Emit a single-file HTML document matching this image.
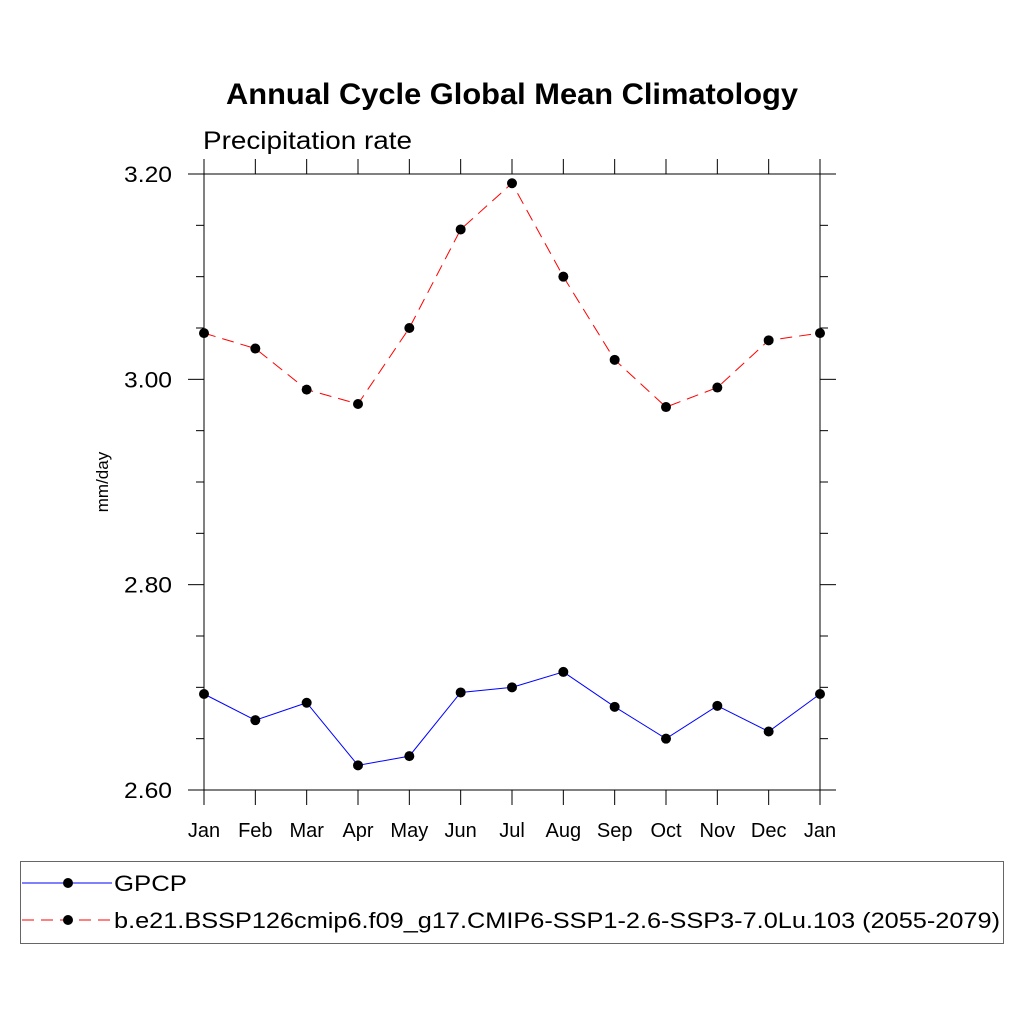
<!DOCTYPE html>
<html><head><meta charset="utf-8"><style>
body{margin:0;background:#fff;}
svg{display:block;font-family:"Liberation Sans",sans-serif;}
</style></head><body>
<svg id="chart" width="1024" height="1024">
<text x="226" y="104" font-size="30" font-weight="bold" textLength="572" lengthAdjust="spacingAndGlyphs">Annual Cycle Global Mean Climatology</text>
<text x="203" y="149" font-size="25" textLength="209" lengthAdjust="spacingAndGlyphs">Precipitation rate</text>
<text transform="translate(108,482) rotate(-90)" font-size="17" text-anchor="middle">mm/day</text>
<g id="axes"></g>
<g id="series"></g>
<rect x="20.5" y="861.5" width="983" height="82" fill="none" stroke="#666"/>
<g>
<line x1="22" y1="883" x2="112" y2="883" stroke="blue" stroke-width="1"/>
<circle cx="68" cy="883" r="5" fill="#000"/>
<text x="114" y="891" font-size="22" textLength="73" lengthAdjust="spacingAndGlyphs">GPCP</text>
</g>
<g>
<line x1="22" y1="920" x2="112" y2="920" stroke="red" stroke-width="1" stroke-dasharray="12,7"/>
<circle cx="68" cy="920" r="5" fill="#000"/>
<text x="114" y="928" font-size="22" textLength="886" lengthAdjust="spacingAndGlyphs">b.e21.BSSP126cmip6.f09_g17.CMIP6-SSP1-2.6-SSP3-7.0Lu.103 (2055-2079)</text>
</g>
</svg>
<script>
const months = ["Jan","Feb","Mar","Apr","May","Jun","Jul","Aug","Sep","Oct","Nov","Dec","Jan"];
const gpcp = [2.6935,2.668,2.685,2.624,2.633,2.695,2.700,2.715,2.681,2.650,2.682,2.657,2.6935];
const model = [3.045,3.030,2.990,2.976,3.050,3.146,3.191,3.100,3.019,2.973,2.992,3.038,3.045];
const yTicks = [2.6,2.8,3.0,3.2];
const yTickLabels = ["2.60","2.80","3.00","3.20"];
const NS="http://www.w3.org/2000/svg";
const X0=204,X1=820,Y0=790,Y1=174,YMIN=2.6,YMAX=3.2;
const xs=i=>X0+(X1-X0)*i/(months.length-1);
const ys=v=>Y0-(v-YMIN)/(YMAX-YMIN)*(Y0-Y1);
function mk(tag,attrs,parent){const e=document.createElementNS(NS,tag);for(const k in attrs)e.setAttribute(k,attrs[k]);parent.appendChild(e);return e;}
const ax=document.getElementById('axes');
const fr=mk('rect',{x:X0,y:Y1,width:X1-X0,height:Y0-Y1,fill:'none',stroke:'#000','stroke-width':1},ax);


months.forEach((m,i)=>{
  const x=xs(i);
  mk('line',{x1:x,y1:Y0,x2:x,y2:Y0+15,stroke:'#000'},ax);
  mk('line',{x1:x,y1:Y1,x2:x,y2:Y1-15,stroke:'#000'},ax);
  const t=mk('text',{x:x,y:Y0+47,'font-size':20,'text-anchor':'middle'},ax);
  t.textContent=m;
  
  
});
for(let v=YMIN;v<=YMAX+1e-9;v+=0.05){
  const y=ys(v);const major=Math.round(v*100)%20===0;
  const L=major?16:8;
  mk('line',{x1:X0-L,y1:y,x2:X0,y2:y,stroke:'#000'},ax);
  mk('line',{x1:X1,y1:y,x2:X1+L,y2:y,stroke:'#000'},ax);
}
yTicks.forEach((v,i)=>{
  const t=mk('text',{x:X0-32,y:ys(v)+8,'font-size':22,'text-anchor':'end',textLength:48,lengthAdjust:'spacingAndGlyphs'},ax);
  t.textContent=yTickLabels[i];
  
  
});
const sg=document.getElementById('series');
function draw(data,color,dash,name){
  const p=mk('polyline',{points:data.map((v,i)=>xs(i)+','+ys(v)).join(' '),fill:'none',stroke:color,'stroke-width':1,'stroke-dasharray':dash},sg);
  
  
  data.forEach((v,i)=>{
    const c=mk('circle',{cx:xs(i),cy:ys(v),r:5,fill:'#000'},sg);
    
    
  });
}
draw(gpcp,'blue','none','gpcp');
draw(model,'red','12,7','model');
</script>
</body></html>
